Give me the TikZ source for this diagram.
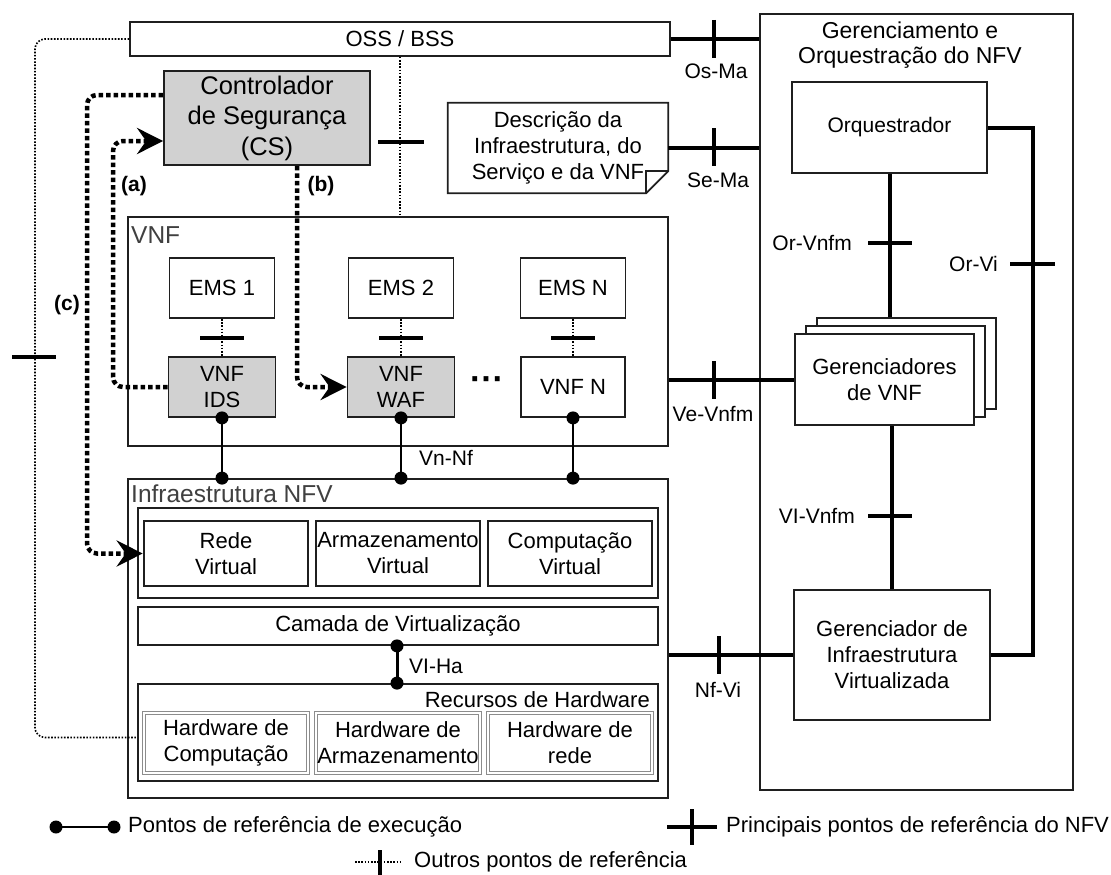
\documentclass[tikz,border=0pt]{standalone}
\usepackage{fontspec}
\setmainfont{Liberation Sans}
\usetikzlibrary{arrows.meta,calc}
\newcommand\myfs{\fontsize{22}{26}\selectfont}
\newcommand\labfs{\fontsize{21}{25}\selectfont}
\newcommand\csfs{\fontsize{25.5}{30.5}\selectfont}
\newcommand\titfs{\fontsize{23}{25}\selectfont}
\newcommand\grpfs{\fontsize{24.5}{28}\selectfont}
\begin{document}
\begin{tikzpicture}[x=1pt,y=-1pt,
  box/.style={draw=black!88, line width=1.8pt, fill=white, inner sep=0pt, align=center, font=\myfs},
  grbox/.style={box, fill=black!18},
  vbox/.style={box, line width=2.6pt},
  hwbox/.style={box, draw=black!45, double=white, double distance=1.4pt, line width=1.1pt},
  conn/.style={line width=4pt, black},
  tickl/.style={line width=4.5pt, black},
  thindot/.style={line width=1.6pt, dash pattern=on 1.6pt off 1.6pt},
  dotarrow/.style={line width=4.5pt, dash pattern=on 4.5pt off 3pt, rounded corners=10pt, -{Stealth[length=26pt,width=26pt,inset=9pt]}},
  lab/.style={font=\labfs, inner sep=0pt},
  dot/.style={circle, fill=black, inner sep=0pt, minimum size=13pt},
  exec/.style={line width=2pt},
  grplab/.style={font=\grpfs, inner sep=0pt, text=black!75}
]
\useasboundingbox (0,0) rectangle (1111,875);

% ---------- MANO ----------
\node[box, minimum width=313pt, minimum height=776pt] (mano) at (916.5,402) {};
\node[font=\titfs, align=center, inner sep=0pt] (manot) at (910,45.5) {Gerenciamento e\\Orquestração do NFV};
\node[box, minimum width=195pt, minimum height=91pt, font=\fontsize{21}{25}\selectfont] (orch) at (889.5,127.5) {Orquestrador};
\node[box, minimum width=179pt, minimum height=91pt] (vnfm3) at (906.5,363.5) {};
\node[box, minimum width=179pt, minimum height=91pt] (vnfm2) at (895.5,371.5) {};
\node[box, minimum width=179pt, minimum height=91pt] (vnfm) at (884.5,379.5) {Gerenciadores\\de VNF};
\node[box, minimum width=196pt, minimum height=130pt] (vim) at (892,655) {Gerenciador de\\Infraestrutura\\Virtualizada};

% ---------- OSS, CS, doc ----------
\node[box, minimum width=540pt, minimum height=34pt] (oss) at (400,39) {OSS / BSS};
\node[grbox, minimum width=206pt, minimum height=94pt, font=\csfs] (cs) at (267,118) {Controlador\\de Segurança\\(CS)};
\node[inner sep=0pt, minimum width=220pt, minimum height=90pt, align=center, font=\myfs] (doc) at (558,148) {Descrição da\\Infraestrutura, do\\Serviço e da VNF};
\draw[line width=1.8pt, draw=black!88, line join=miter]
  (doc.north west) -- (doc.north east) -- ([yshift=22pt]doc.south east) -- ([xshift=-22pt]doc.south east) -- (doc.south west) -- cycle;
\draw[line width=1.8pt, draw=black!88]
  ([yshift=22pt]doc.south east) -- ([xshift=-22pt,yshift=22pt]doc.south east) -- ([xshift=-22pt]doc.south east);

% ---------- VNF ----------
\node[box, minimum width=540pt, minimum height=229pt] (vnf) at (398,331.5) {};
\node[grplab, anchor=west] (vnflab) at (131,235) {VNF};
\node[box, minimum width=105pt, minimum height=60pt] (ems1) at (222,288) {EMS 1};
\node[box, minimum width=105pt, minimum height=60pt] (ems2) at (401,288) {EMS 2};
\node[box, minimum width=105pt, minimum height=60pt] (emsn) at (573,288) {EMS N};
\node[grbox, minimum width=107pt, minimum height=60pt] (ids) at (222,387) {VNF\\IDS};
\node[grbox, minimum width=107pt, minimum height=60pt] (waf) at (401,387) {VNF\\WAF};
\node[box, minimum width=104pt, minimum height=60pt] (vnfn) at (573,387) {VNF N};
\node[font=\bfseries\fontsize{34}{34}\selectfont, inner sep=0pt] (dots) at (487,384) {···};

% ---------- NFVI ----------
\node[box, minimum width=540pt, minimum height=319pt] (nfvi) at (398,638.5) {};
\node[grplab, anchor=west] (nfvilab) at (131,494) {Infraestrutura NFV};
\node[box, minimum width=520pt, minimum height=90pt] (vgrp) at (398,553) {};
\node[vbox, minimum width=164pt, minimum height=65pt] (rede) at (226,553.5) {Rede\\Virtual};
\node[vbox, minimum width=164pt, minimum height=65pt] (arm) at (398,553.5) {Armazenamento\\Virtual};
\node[vbox, minimum width=164pt, minimum height=65pt] (comp) at (570,553.5) {Computação\\Virtual};
\node[box, minimum width=520pt, minimum height=38pt] (cam) at (398,626) {Camada de Virtualização};
\node[box, minimum width=520pt, minimum height=97pt] (rec) at (398,732.5) {};
\node[font=\myfs, inner sep=0pt, anchor=east] (reclab) at (650,700) {Recursos de Hardware};
\node[hwbox, minimum width=164pt, minimum height=60pt] (hwc) at (226,743) {Hardware de\\Computação};
\node[hwbox, minimum width=164pt, minimum height=60pt] (hwa) at (398,743) {Hardware de\\Armazenamento};
\node[hwbox, minimum width=164pt, minimum height=60pt] (hwr) at (570,743) {Hardware de\\rede};

% ---------- main NFV reference points ----------
\draw[conn] (oss.east) -- (oss.east -| mano.west);
\draw[tickl] (714,20) -- (714,58);
\node[lab] (osma) at (716,71) {Os-Ma};
\draw[conn] (doc.east) -- (doc.east -| mano.west);
\draw[tickl] (714,128) -- (714,166);
\node[lab] (sema) at (718,180) {Se-Ma};
\draw[conn] (orch.south) -- (orch.south |- vnfm3.north);
\draw[tickl] (868,243) -- (912,243);
\node[lab, anchor=east] (orvnfm) at (852,243) {Or-Vnfm};
\coordinate (orvi) at (1033,400);
\draw[conn] (orch.east) -| (orvi) |- (vim.east);
\draw[tickl] (1010,264) -- (1055,264);
\node[lab, anchor=east] (orvil) at (998,264) {Or-Vi};
\draw[conn] (vim.north) -- (vim.north |- vnfm.south);
\draw[tickl] (868,516) -- (912,516);
\node[lab, anchor=east] (vivnfm) at (855,516) {VI-Vnfm};
\draw[conn] (vnfm.west) -- (vnfm.west -| vnf.east);
\draw[tickl] (714,361) -- (714,399);
\node[lab] (vevnfm) at (713,414) {Ve-Vnfm};
\draw[conn] (vim.west) -- (vim.west -| nfvi.east);
\draw[tickl] (719,636) -- (719,674);
\node[lab] (nfvil) at (718,690) {Nf-Vi};

% ---------- other reference points ----------
\draw[thindot] (oss.south) -- (oss.south |- vnf.north);
\draw[tickl] (378,142) -- (424,142);
\draw[thindot, rounded corners=10pt] (oss.west) -- (35,39) -- (35,737.5) -- ([yshift=-5pt]rec.west);
\draw[tickl] (12,357) -- (56,357);
\foreach \e/\v in {ems1/ids, ems2/waf, emsn/vnfn}{
  \draw[thindot] (\e.south) -- (\v.north);
  \draw[tickl] ([xshift=-22pt]\e.south |- 0,338) -- ([xshift=22pt]\e.south |- 0,338);
}

% ---------- execution reference points ----------
\foreach \v in {ids, waf, vnfn}{
  \draw[exec] (\v.south) -- (\v.south |- nfvi.north);
  \node[dot] at (\v.south) {};
  \node[dot] at (\v.south |- nfvi.north) {};
}
\node[lab] (vnnf) at (446,458) {Vn-Nf};
\draw[line width=3pt] (cam.south -| 397,0) -- (rec.north -| 397,0);
\node[dot] at (cam.south -| 397,0) {};
\node[dot] at (rec.north -| 397,0) {};
\node[lab, anchor=west] (viha) at (409,666) {VI-Ha};

% ---------- security controller flows ----------
\draw[dotarrow] (ids.west) -- (113,387) -- (113,141) -- ([yshift=-23pt]cs.west);
\draw[dotarrow] ([xshift=30pt]cs.south) -- (297,387) -- (waf.west);
\draw[dotarrow] ([yshift=23pt]cs.west) -- (87,95) -- (87,553.5) -- (rede.west);
\node[lab, font=\bfseries\labfs] (la) at (134,186) {(a)};
\node[lab, font=\bfseries\labfs] (lb) at (321,186) {(b)};
\node[lab, font=\bfseries\labfs] (lc) at (67,305) {(c)};

% ---------- legend ----------
\coordinate (l1a) at (56,827);
\coordinate (l1b) at (114,827);
\draw[exec] (l1a) -- (l1b);
\node[dot] at (l1a) {};
\node[dot] at (l1b) {};
\node[font=\myfs, inner sep=0pt, anchor=west] (leg1) at (128,827) {Pontos de referência de execução};
\coordinate (l2a) at (667,827);
\coordinate (l2b) at (717,827);
\draw[conn] (l2a) -- (l2b);
\draw[tickl] (692,809) -- (692,845);
\node[font=\myfs, inner sep=0pt, anchor=west] (leg2) at (726,827) {Principais pontos de referência do NFV};
\coordinate (l3a) at (355,862);
\coordinate (l3b) at (402,862);
\draw[thindot] (l3a) -- (l3b);
\draw[line width=4pt] (380,850) -- (380,875);
\node[font=\myfs, inner sep=0pt, anchor=west] (leg3) at (414,862) {Outros pontos de referência};
\end{tikzpicture}
\end{document}
